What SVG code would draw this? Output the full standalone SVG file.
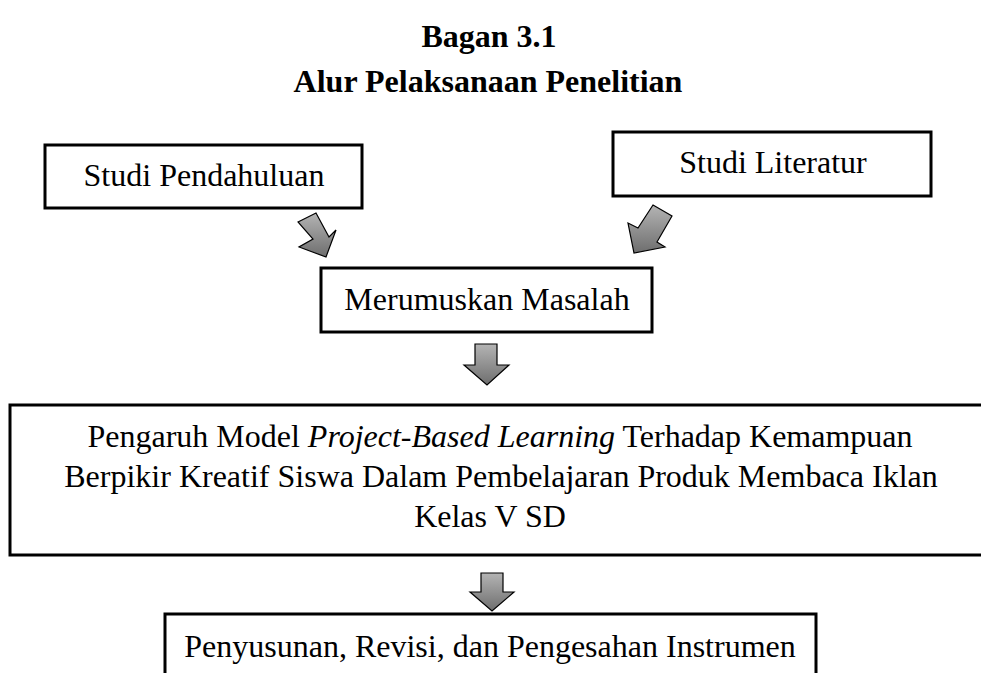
<svg xmlns="http://www.w3.org/2000/svg" width="981" height="673" viewBox="0 0 981 673">
<style>
  .t { font-family: "Liberation Serif", "Times New Roman", serif; font-size: 32px; fill: #000; }
  .title { font-weight: bold; }
  .box { fill: #fff; stroke: #000; stroke-width: 3; }
  .arrow { fill: url(#grey); stroke: #000; stroke-width: 1.2; stroke-linejoin: miter; }
</style>
<defs>
  <linearGradient id="grey" x1="0" y1="0" x2="0" y2="1">
    <stop offset="0" stop-color="#b4b4b4"/>
    <stop offset="1" stop-color="#6e6e6e"/>
  </linearGradient>
</defs>
<rect width="981" height="673" fill="#fff"/>
<g id="title">
  <text class="t title" x="489" y="47" text-anchor="middle">Bagan 3.1</text>
  <text class="t title" x="488" y="92" text-anchor="middle">Alur Pelaksanaan Penelitian</text>
</g>
<g id="studi-pendahuluan">
  <rect class="box" x="45" y="145" width="317" height="63"/>
  <text class="t" x="204" y="186" text-anchor="middle">Studi Pendahuluan</text>
</g>
<g id="studi-literatur">
  <rect class="box" x="613" y="132" width="318" height="64"/>
  <text class="t" x="773" y="173" text-anchor="middle">Studi Literatur</text>
</g>
<g id="merumuskan-masalah">
  <rect class="box" x="321" y="268" width="331" height="64"/>
  <text class="t" x="487" y="310" text-anchor="middle">Merumuskan Masalah</text>
</g>
<g id="pengaruh-model">
  <rect class="box" x="10" y="405" width="990" height="150"/>
  <text class="t" x="500" y="447" text-anchor="middle">Pengaruh Model <tspan font-style="italic">Project-Based Learning</tspan> Terhadap Kemampuan</text>
  <text class="t" x="501" y="487" text-anchor="middle">Berpikir Kreatif Siswa Dalam Pembelajaran Produk Membaca Iklan</text>
  <text class="t" x="490" y="527" text-anchor="middle">Kelas V SD</text>
</g>
<g id="penyusunan-instrumen">
  <rect class="box" x="165" y="614" width="651" height="80"/>
  <text class="t" x="490" y="657" text-anchor="middle">Penyusunan, Revisi, dan Pengesahan Instrumen</text>
</g>
<g id="connectors">
  <polygon class="arrow" points="298,222 316,213 329,237 336,230 326,257 299,247 313,239"/>
  <polygon class="arrow" points="653,205 672,216 657,242 665,247 634,253 628,223 638,228"/>
  <polygon class="arrow" points="475,344 497,344 497,365 509,365 487,385 464,365 475,365"/>
  <polygon class="arrow" points="481,573 503,573 503,592 514,592 492,611 470,592 481,592"/>
</g>
</svg>
